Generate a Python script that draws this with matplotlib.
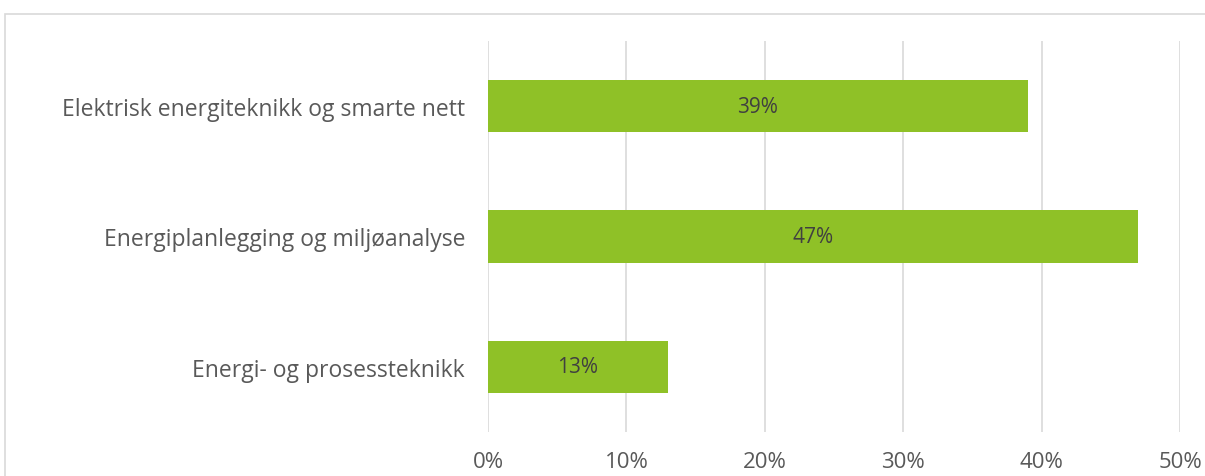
import matplotlib
matplotlib.use("Agg")
import matplotlib.pyplot as plt
from matplotlib.patches import Rectangle

categories = ["Energi- og prosessteknikk",
              "Energiplanlegging og miljøanalyse",
              "Elektrisk energiteknikk og smarte nett"]
values = [13, 47, 39]
xticks = [0, 10, 20, 30, 40, 50]
xtick_labels = ["0%", "10%", "20%", "30%", "40%", "50%"]

plt.rcParams['font.family'] = ['Open Sans', 'DejaVu Sans']

fig = plt.figure(figsize=(12.05, 4.77), dpi=100)
ax = fig.add_axes([488/1205, 1-433/477, (1180-488)/1205, (433-42)/477])

y = range(len(categories))
bars = ax.barh(y, values, height=0.4, color="#8FC127", zorder=3)
for b, v in zip(bars, values):
    ax.text(b.get_width()/2, b.get_y()+b.get_height()/2, f"{v}%",
            ha="center", va="center", fontsize=15, color="#404040", zorder=4)

ax.set_xlim(0, 50)
ax.set_ylim(-0.5, 2.5)
ax.set_xticks(xticks)
ax.set_xticklabels(xtick_labels)
ax.set_yticks(list(y))
ax.set_yticklabels(categories)
ax.tick_params(axis="both", length=0, labelcolor="#595959")
ax.tick_params(axis="y", pad=16.5, labelsize=16.5)
ax.tick_params(axis="x", pad=14, labelsize=16)
ax.grid(axis="x", color="#D9D9D9", linewidth=1.2, zorder=0)
for s in ax.spines.values():
    s.set_visible(False)

fig.patches.append(Rectangle((5/1205, -0.1), 1.2, 1-15/477+0.1, transform=fig.transFigure,
                             fill=False, edgecolor="#D9D9D9", linewidth=1.2))

fig.savefig("out.png", dpi=100)
